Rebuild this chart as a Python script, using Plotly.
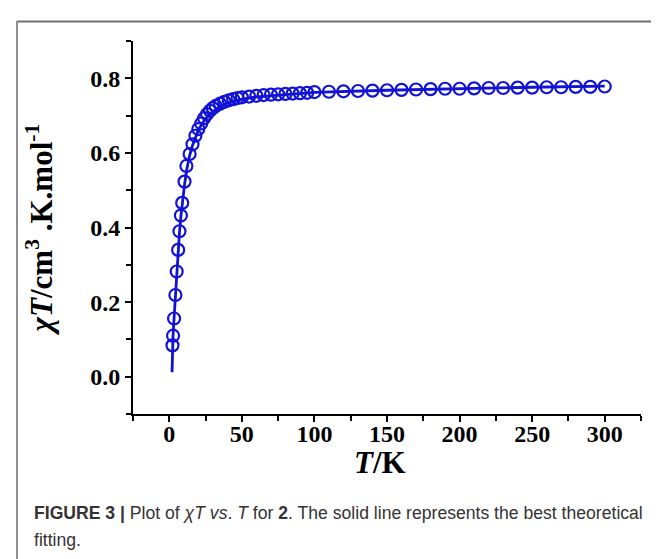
import plotly.graph_objects as go

# Measured data (circles)
T_data = [2.2, 2.6, 3.3, 4.2, 5.1, 6.1, 7.0, 8.0, 8.9, 10.5, 11.8,
          14, 16, 18, 20, 22, 24, 26, 28, 30, 32, 35, 38, 41, 44, 47, 50,
          55, 60, 65, 70, 75, 80, 85, 90, 95,
          100, 110, 120, 130, 140, 150, 160, 170, 180, 190, 200,
          210, 220, 230, 240, 250, 260, 270, 280, 290, 300]
chiT_data = [0.084, 0.110, 0.156, 0.219, 0.282, 0.340, 0.390, 0.432, 0.466, 0.523, 0.565,
             0.597, 0.623, 0.646, 0.664, 0.679, 0.693, 0.704, 0.713, 0.720, 0.726, 0.732, 0.737, 0.741, 0.744, 0.747, 0.749,
             0.751, 0.753, 0.755, 0.756, 0.757, 0.758, 0.759, 0.760, 0.761,
             0.763, 0.764, 0.765, 0.766, 0.767, 0.768, 0.769, 0.770, 0.771, 0.772, 0.772,
             0.773, 0.774, 0.774, 0.775, 0.775, 0.776, 0.776, 0.777, 0.777, 0.778]

# Theoretical fit (solid line)
T_fit = [1.9, 2.2, 2.6, 3.3, 4.2, 5.1, 6.1, 7.0, 8.0, 9.0, 10.5, 12, 14, 16, 18, 20, 23, 26, 30,
         35, 40, 50, 60, 80, 100, 150, 200, 250, 300]
chiT_fit = [0.012, 0.080, 0.110, 0.157, 0.220, 0.280, 0.338, 0.386, 0.430, 0.468, 0.515, 0.555,
            0.593, 0.620, 0.643, 0.661, 0.681, 0.696, 0.711, 0.724, 0.733, 0.744, 0.750, 0.757,
            0.762, 0.768, 0.773, 0.776, 0.779]

x_ticks = [0, 50, 100, 150, 200, 250, 300]
y_ticks = [0.0, 0.2, 0.4, 0.6, 0.8]
y_tick_labels = ["0.0", "0.2", "0.4", "0.6", "0.8"]

BLUE = "#1212d6"
W, H = 659, 559
L, R, T, B = 125, 26, 33, 153
pw, ph = W - L - R, H - T - B

def px(xpix):
    return (xpix - L) / pw

def py(ypix):
    return (H - B - ypix) / ph

fig = go.Figure()
fig.add_trace(go.Scatter(x=T_fit, y=chiT_fit, mode="lines",
                         line=dict(color=BLUE, width=2.8), showlegend=False))
fig.add_trace(go.Scatter(x=T_data, y=chiT_data, mode="markers",
                         marker=dict(symbol="circle-open", size=12, color=BLUE,
                                     line=dict(color=BLUE, width=2.2)),
                         showlegend=False))

tickfont = dict(family="Liberation Serif", size=24, color="black", weight="bold")

fig.update_layout(
    width=W, height=H,
    margin=dict(l=L, r=R, t=T, b=B),
    plot_bgcolor="white", paper_bgcolor="white",
    xaxis=dict(range=[-25, 325], tickvals=x_ticks, ticks="outside", ticklen=6, tickwidth=2,
               tickcolor="black", showline=True, linecolor="black", linewidth=2,
               showgrid=False, zeroline=False, tickfont=tickfont, ticklabelstandoff=-9,
               minor=dict(dtick=25, tick0=0, ticks="outside", ticklen=5, tickwidth=2, tickcolor="black")),
    yaxis=dict(range=[-0.1, 0.9], tickvals=y_ticks, ticktext=y_tick_labels, ticks="outside", ticklen=6,
               tickwidth=2, tickcolor="black", showline=True, linecolor="black", linewidth=2,
               showgrid=False, zeroline=False, tickfont=tickfont,
               minor=dict(dtick=0.1, tick0=0, ticks="outside", ticklen=5, tickwidth=2, tickcolor="black"),
               title=dict(text="<b><i>χT</i>/cm<sup>3</sup> .K.mol<sup>-1</sup></b>",
                          font=dict(family="Liberation Serif", size=31, color="black"),
                          standoff=28)),
)

# x-axis title
fig.add_annotation(xref="paper", yref="paper", x=px(372), y=py(454), xanchor="center", yanchor="middle",
                   showarrow=False, text="<b><i>T</i>/K</b>",
                   font=dict(family="Liberation Serif", size=31, color="black"))

# figure frame (gray)
fig.add_shape(type="line", xref="paper", yref="paper", x0=px(9), x1=px(W + 5), y0=py(13.5), y1=py(13.5),
              line=dict(color="#707070", width=2))
fig.add_shape(type="line", xref="paper", yref="paper", x0=px(9), x1=px(9), y0=py(13), y1=py(H + 5),
              line=dict(color="#909090", width=2))

# caption
cap_font = dict(family="Liberation Sans", size=17.6, color="#333333")
fig.add_annotation(xref="paper", yref="paper", x=px(24), y=py(505), xanchor="left", yanchor="middle",
                   showarrow=False, align="left", font=cap_font,
                   text="<b>FIGURE 3 |</b> Plot of <i>χT vs</i>. <i>T</i> for <b>2</b>. The solid line represents the best theoretical")
fig.add_annotation(xref="paper", yref="paper", x=px(24), y=py(532), xanchor="left", yanchor="middle",
                   showarrow=False, align="left", font=cap_font, text="fitting.")

fig.write_html("out.html")
